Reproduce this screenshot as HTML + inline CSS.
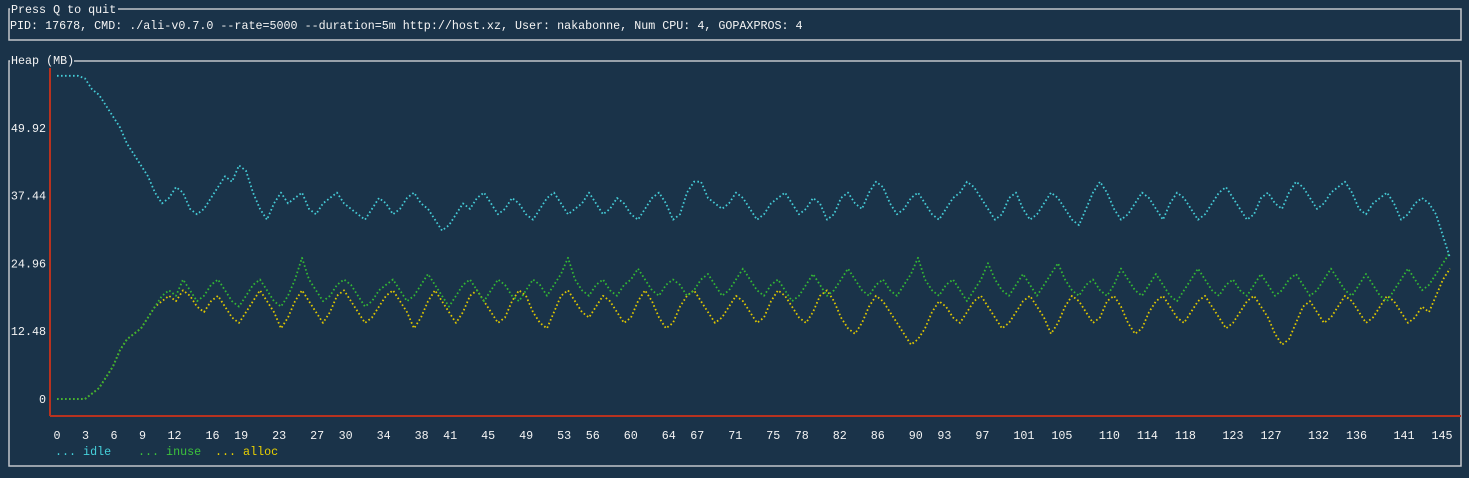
<!DOCTYPE html>
<html><head><meta charset="utf-8"><style>
html,body{margin:0;padding:0;background:#1a3349;width:1469px;height:478px;overflow:hidden}
svg{display:block}
text{font-family:"Liberation Mono",monospace;font-size:11.7px;fill:#f4f4f4}
</style></head><body>
<svg width="1469" height="478">
<g>
<rect x="9" y="9" width="1452" height="31" fill="none" stroke="#c2c6ca" stroke-width="1.5"/>
<rect x="10" y="3" width="108" height="12" fill="#1a3349"/>
<text x="11" y="13">Press Q to quit</text>
<text x="10" y="29">PID: 17678, CMD: ./ali-v0.7.0 --rate=5000 --duration=5m http://host.xz, User: nakabonne, Num CPU: 4, GOPAXPROS: 4</text>
</g>
<g>
<rect x="9" y="61" width="1452" height="405" fill="none" stroke="#c2c6ca" stroke-width="1.5"/>
<rect x="10" y="54" width="64" height="12" fill="#1a3349"/>
<text x="11" y="64">Heap (MB)</text>
</g>
<g id="axes"></g>
<g id="series"></g>
<g>
<text x="55" y="455" style="fill:#45d0da">... idle</text>
<text x="138" y="455" style="fill:#3cc23c">... inuse</text>
<text x="215" y="455" style="fill:#e8d000">... alloc</text>
</g>
</svg>
<script>
const yTicks=["0","12.48","24.96","37.44","49.92"];
const yTickValues=[0,12.48,24.96,37.44,49.92];
const xTicks=[0,3,6,9,12,16,19,23,27,30,34,38,41,45,49,53,56,60,64,67,71,75,78,82,86,90,93,97,101,105,110,114,118,123,127,132,136,141,145];
const idle=[59.5,59.5,59.5,59.5,59,57,56,54,52,50,47,45,43,41,38,36,37,39,38,35,34,35,37,39,41,40,43,42,38,35,33,36,38,36,37,38,35,34,36,37,38,36,35,34,33,35,37,36,34,35,37,38,36,35,33,31,32,34,36,35,37,38,36,34,35,37,36,34,33,35,37,38,36,34,35,36,38,36,34,35,37,36,34,33,35,37,38,36,33,34,38,40,40,37,36,35,36,38,37,35,33,34,36,37,38,36,34,35,37,36,33,34,37,38,36,35,38,40,39,36,34,35,37,38,36,34,33,35,37,38,40,39,37,35,33,34,37,38,35,33,34,36,38,37,35,33,32,35,38,40,38,35,33,34,36,38,37,35,33,36,38,37,35,33,34,36,38,39,37,35,33,34,37,38,36,35,38,40,39,37,35,36,38,39,40,38,35,34,36,37,38,36,33,34,36,37,36,34,30,26];
const inuse=[0,0,0,0,0,1,2,4,6,9,11,12,13,15,17,19,20,19,22,20,18,19,21,22,20,18,17,19,21,22,20,18,17,19,22,26,22,20,18,19,21,22,21,19,17,18,20,21,22,20,18,19,21,23,21,19,17,19,21,22,20,18,20,22,21,19,18,20,22,21,19,21,23,26,22,20,19,21,22,20,19,21,22,24,22,20,19,21,22,21,19,20,22,23,21,19,20,22,24,22,20,19,21,22,20,18,19,21,23,21,19,20,22,24,22,20,19,21,22,20,19,21,23,26,22,20,19,21,22,20,18,20,22,25,22,20,19,21,23,21,19,21,23,25,22,20,19,21,22,20,19,21,24,22,20,19,21,23,21,19,18,20,22,24,22,20,19,21,22,20,19,21,23,21,19,20,22,23,21,19,20,22,24,22,20,19,21,23,21,19,18,20,22,24,22,20,21,23,25,27];
const alloc=[0,0,0,0,0,1,2,4,6,9,11,12,13,15,17,18,19,18,20,19,17,16,18,19,17,15,14,16,18,20,18,16,13,15,18,20,18,16,14,16,19,20,18,16,14,15,17,19,20,18,16,13,15,18,20,18,16,14,16,19,20,18,16,14,15,18,20,19,16,14,13,16,19,20,18,16,15,17,19,18,16,14,15,18,20,18,15,13,14,17,19,20,18,16,14,15,17,19,18,16,14,15,18,20,19,17,15,14,16,19,20,18,15,13,12,14,17,19,18,16,14,12,10,11,13,16,18,17,15,14,16,18,19,17,15,13,14,16,18,19,17,15,12,14,17,19,18,16,14,15,18,19,17,14,12,13,16,18,19,17,15,14,16,18,19,17,15,13,14,16,18,19,17,15,12,10,11,14,17,18,16,14,15,17,19,18,16,14,15,17,19,18,16,14,15,17,16,19,22,24];
const NS='http://www.w3.org/2000/svg';
const X0=57,XSTEP=7,Y0=399,YPER=67.8/12.48;
function yScale(v){return Y0-v*YPER;}
function xIndex(i){return X0+i*XSTEP;}
function xTickPos(t){return X0+t*(1435-57)/145;}
const axes=document.getElementById('axes');
function mk(tag,attrs,parent){const e=document.createElementNS(NS,tag);for(const k in attrs)e.setAttribute(k,attrs[k]);parent.appendChild(e);return e;}
const ya=mk('line',{x1:50,y1:68,x2:50,y2:416,stroke:'#b8321f','stroke-width':2},axes);


const xa=mk('line',{x1:50,y1:416,x2:1461,y2:416,stroke:'#b8321f','stroke-width':2},axes);


yTicks.forEach((t,i)=>{const e=mk('text',{x:46,y:yScale(yTickValues[i])+4,'text-anchor':'end'},axes);e.textContent=t;

});
xTicks.forEach(t=>{const e=mk('text',{x:xTickPos(t)-3.5,y:439},axes);e.textContent=String(t);

});
const ser=document.getElementById('series');
function draw(arr,color,name){
  const pts=arr.map((v,i)=>xIndex(i).toFixed(1)+','+yScale(v).toFixed(1)).join(' ');
  const p=mk('polyline',{points:pts,fill:'none',stroke:color,'stroke-width':1.8,'stroke-dasharray':'1.6 2.4','stroke-linejoin':'round'},ser);
  
  
}
draw(alloc,'#e0c800','alloc-line');
draw(inuse,'#34b834','inuse-line');
draw(idle,'#45cdd8','idle-line');
</script>
</body></html>
